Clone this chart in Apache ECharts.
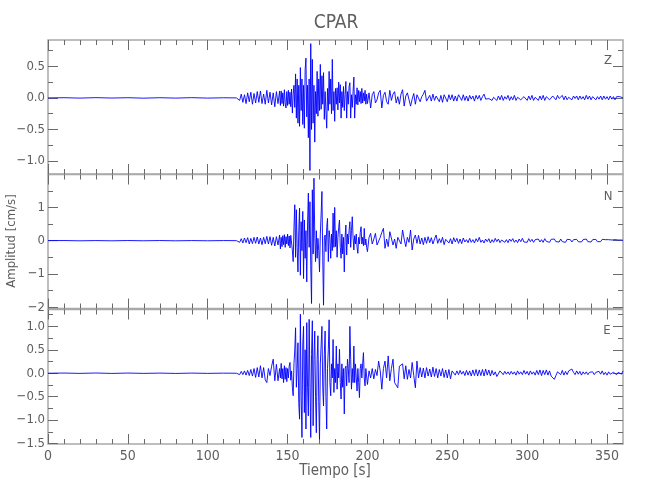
<!DOCTYPE html>
<html><head><meta charset="utf-8">
<script src="https://cdn.jsdelivr.net/npm/echarts@6/dist/echarts.min.js"></script>
<style>html,body{margin:0;padding:0;background:#fff}#chart{width:650px;height:500px}</style>
</head><body><div id="chart"></div>
<script>
// Sampling grid of the traces (seconds): [start, end, step]
const timeSegments = [[0, 110, 10], [118, 145, 1], [145.5, 200, 0.5], [201, 360, 1]];

// Z component (cm/s)
const ampZ = [
  // 0..110
  0, 0.003, -0.003, 0.004, -0.002, 0.003, -0.004, 0.003, -0.003, 0.004, -0.003, 0.002,
  // 118..145
  0, 0.02, -0.04, 0.06, -0.07, 0.05, -0.09, 0.08, -0.06, 0.09,
  -0.1, 0.07, -0.08, 0.1, -0.07, 0.11, -0.09, 0.06, -0.1, 0.12,
  -0.08, 0.09, -0.11, 0.08, -0.14, 0.1, -0.09, 0.11,
  // 145.5..200 (0.5 s)
  -0.12, 0.11, -0.09, 0.08, -0.13, 0.13, -0.08, -0.16, 0.1, -0.12,
  0.12, -0.1, 0.09, -0.14, 0.14, -0.24, 0.05, 0.2, -0.15, 0.38,
  -0.32, 0.3, -0.4, 0.2, -0.45, 0.48, -0.2, 0.3, -0.42, 0.2,
  -0.48, 0.45, 0.63, -0.3, 0.2, -0.63, 0.3, -1.15, 0.86, -0.5,
  0.61, -0.4, 0.2, -0.7, 0.1, -0.25, 0.42, -0.29, 0.3, -0.2,
  0.53, -0.18, 0.35, -0.1, 0.4, -0.34, 0.1, -0.2, -0.48, 0.15,
  -0.2, 0.42, -0.1, 0.3, -0.25, 0.61, -0.2, 0.1, -0.37, 0.15,
  -0.1, 0.16, -0.19, 0.25, -0.08, 0.21, -0.32, 0.1, -0.15, 0.18,
  -0.2, 0.05, 0.26, -0.32, 0.1, -0.1, 0.18, 0.24, -0.32, 0.05,
  -0.15, 0.1, 0.33, -0.32, 0.05, -0.1, 0.16, -0.11, 0.12, -0.06,
  0.1, -0.09, 0.15, -0.08, 0.08, -0.05, 0.12, -0.1, 0.06, -0.09,
  // 201..360
  0.08, -0.16, 0.05, 0.1, -0.08, -0.03, 0.08, 0.12, -0.16, 0.04,
  0.09, -0.06, -0.1, 0.12, -0.04, 0.06, 0.1, -0.08, 0.02, -0.1,
  0.06, 0.13, -0.13, 0.03, 0.08, 0.1, -0.13, -0.02, 0.07, -0.1,
  0.05, 0.08, -0.06, 0.02, 0.06, 0.12, -0.05, -0.08, 0.04, -0.05,
  0.06, -0.04, 0.03, 0.06, -0.06, 0.04, -0.07, 0.05, 0.02, -0.06,
  0.05, -0.03, 0.05, -0.05, 0.03, -0.05, 0.05, 0.01, -0.04, 0.05,
  -0.04, 0.03, -0.05, 0.04, -0.02, 0.03, -0.05, 0.04, -0.02, 0.04,
  -0.04, 0.02, 0.06, -0.02, 0.01, -0.01, -0.03, -0.04, 0.01, 0.04,
  -0.04, 0.03, -0.03, 0.04, -0.04, 0.02, -0.02, 0.04, -0.04, 0.02,
  -0.03, 0.04, -0.04, 0.01, 0.04, -0.03, -0.04, 0.02, 0.04, -0.04,
  0.03, -0.03, 0.04, -0.04, 0.01, 0.04, -0.04, 0.03, -0.03, 0.04,
  -0.04, 0.02, 0.04, -0.03, -0.04, 0.03, 0.01, -0.03, 0.04, -0.01,
  -0.04, 0.04, -0.03, 0.03, -0.03, 0.01, 0.04, -0.03, 0.03, -0.01,
  0.03, -0.03, 0.03, -0.02, 0.02, -0.03, 0.04, -0.02, 0.03, -0.03,
  0.02, 0.03, -0.03, 0.02, -0.02, 0.03, -0.03, 0.03, -0.02, 0.02,
  -0.03, 0.03, -0.02, 0.02, -0.03, 0.02, 0.0, 0.02, -0.01, 0.0
];

// N component (cm/s)
const ampN = [
  0, 0.004, -0.004, 0.003, -0.004, 0.004, -0.003, 0.004, -0.004, 0.003, -0.003, 0.003,
  0, 0.03, -0.05, 0.06, -0.07, 0.08, -0.06, 0.09, -0.1, 0.07,
  -0.09, 0.1, -0.08, 0.11, -0.1, 0.08, -0.12, 0.1, -0.09, 0.13,
  -0.1, 0.12, -0.14, 0.1, -0.16, 0.12, -0.13, 0.17,
  -0.25, 0.1, -0.18, 0.15, -0.12, 0.18, -0.2, 0.12, -0.1, 0.2,
  -0.15, 0.14, -0.22, 0.16, 0.1, -0.3, -0.63, 0.4, 1.08, -0.5,
  0.93, -0.2, -0.94, 0.3, 0.98, -1.04, 0.57, -0.3, 0.88, -1.14,
  0.62, -0.53, 0.3, -1.24, 0.5, 1.43, -0.2, 1.17, -0.74, -1.89,
  1.53, -0.4, 1.88, 0.2, -0.63, 0.3, -0.53, 0.07, -0.3, -0.94,
  0.2, 0.8, 1.48, -0.5, -1.94, 0.1, 0.17, -0.33, 0.4, 0.67,
  -0.63, 0.3, 0.07, -0.53, 0.2, -0.3, 0.83, -0.2, 1.0, -0.18,
  0.3, -0.5, 0.1, 0.4, 0.62, -0.2, -0.53, 0.2, -0.4, 0.1,
  -0.94, 0.1, 0.47, -0.43, 0.2, -0.1, 0.3, 0.57, -0.2, 0.3,
  0.72, 0.1, -0.28, 0.15, -0.1, 0.2, -0.2, -0.38, 0.1, -0.1,
  0.25, 0.42, -0.1, 0.1, -0.15, 0.37, -0.13, 0.05, -0.2, -0.33,
  0.1, 0.22, -0.1, 0.05, 0.22, -0.13, -0.18, 0.1, 0.25, 0.37,
  -0.23, 0.05, -0.18, 0.27, 0.22, -0.13, 0.05, -0.23, 0.1, 0.15,
  -0.1, 0.32, 0.05, -0.18, 0.1, -0.05, 0.32, -0.28, 0.05, 0.17,
  -0.08, 0.16, -0.1, 0.08, -0.12, 0.1, -0.08, 0.12, -0.06, 0.09,
  -0.1, 0.05, 0.17, -0.08, 0.06, -0.06, 0.1, -0.12, 0.04, 0.08,
  -0.07, 0.06, -0.1, 0.09, -0.04, 0.07, -0.08, 0.05, -0.09, 0.08,
  -0.04, 0.03, -0.06, 0.07, -0.05, 0.03, -0.07, 0.06, -0.03, 0.1,
  -0.05, 0.02, -0.07, 0.05, -0.03, 0.06, -0.07, 0.03, -0.05, 0.07,
  -0.03, 0.05, -0.06, 0.02, 0.07, -0.05, 0.03, -0.06, 0.05, -0.02,
  0.06, -0.05, 0.02, -0.06, 0.05, -0.03, 0.07, -0.04, 0.02, -0.05,
  0.06, -0.03, 0.04, -0.05, 0.03, -0.02, 0.05, -0.04, 0.03, -0.05,
  0.06, -0.02, 0.03, -0.05, 0.04, -0.02, 0.05, -0.03, 0.02, -0.04,
  0.05, -0.03, 0.02, -0.05, 0.04, -0.02, 0.03, -0.04, 0.03, -0.02,
  0.04, -0.03, 0.02, -0.04, 0.03, -0.02, 0.05, -0.03, 0.02, -0.04,
  0.03, -0.02, 0.04, -0.03, 0.02, -0.03, 0.04, -0.02, 0.03, -0.02,
  0.03, -0.03, 0.02, -0.02, 0.03, -0.02, 0.02, -0.01, 0.02, 0.01
];

// E component (cm/s)
const ampE = [
  0, 0.004, -0.003, 0.005, -0.004, 0.004, -0.003, 0.003, -0.004, 0.003, -0.003, 0.002,
  0, 0.02, -0.03, 0.04, -0.03, 0.05, -0.04, 0.06, -0.05, 0.08,
  -0.06, 0.1, -0.09, 0.12, -0.08, 0.16, -0.1, 0.12, -0.14, -0.2,
  0.1, -0.05, 0.15, 0.3, -0.16, 0.19, -0.16, 0.1,
  -0.1, 0.21, -0.12, 0.1, -0.2, 0.16, -0.13, 0.12, -0.18, 0.1,
  -0.1, 0.15, 0.23, -0.15, 0.05, -0.3, -0.48, 0.2, 0.5, 0.97,
  -0.3, 0.1, 0.65, -0.63, -0.98, 1.26, -0.5, -1.37, 0.6, 1.0,
  -0.84, 0.5, -1.19, 1.08, -0.3, -0.91, 1.15, -0.2, -1.37, 0.4,
  1.12, -1.12, 0.3, 0.9, -0.5, -1.27, 0.3, 0.8, -0.6, -1.41,
  0.2, 0.6, 1.0, -0.3, -0.7, 0.4, 0.9, -0.5, -1.19, 0.1,
  0.5, 1.14, -0.2, -0.48, 0.2, -0.1, 0.72, -0.41, 0.1, -0.2,
  0.58, -0.34, 0.2, -0.1, 0.51, -0.2, -0.55, 0.2, -0.3, 0.1,
  -0.87, 0.1, 0.15, -0.27, 0.3, 0.1, -0.2, 1.0, 0.3, -0.34,
  0.1, -0.2, 0.58, -0.2, 0.2, -0.1, -0.38, 0.1, -0.2, -0.52,
  0.1, 0.2, -0.1, 0.2, 0.44, -0.1, -0.27, 0.1, 0.09, -0.24,
  0.05, -0.1, 0.1, -0.12, 0.08, -0.05, 0.26, 0.05, -0.34, 0.1,
  0.26, -0.1, 0.37, -0.16, 0.1, 0.3, -0.2, -0.16, -0.31, 0.15,
  0.16, 0.2, -0.12, 0.16, -0.13, 0.08, -0.1, 0.23, -0.05, -0.31,
  0.26, -0.1, 0.12, -0.08, 0.11, -0.1, 0.12, -0.06, 0.09, -0.08,
  0.13, -0.07, 0.1, -0.1, 0.08, -0.06, 0.1, -0.09, 0.07, -0.1,
  0.08, -0.12, 0.05, 0.02, -0.04, 0.05, -0.03, 0.06, -0.02, 0.04,
  -0.05, 0.06, -0.04, 0.05, -0.06, 0.07, -0.05, 0.08, -0.06, 0.07,
  -0.05, 0.08, -0.06, 0.09, -0.04, 0.07, -0.06, 0.06, -0.04, 0.03,
  -0.07, -0.1, 0.05, 0.02, -0.03, 0.04, -0.02, 0.03, -0.03, 0.04,
  -0.02, 0.03, -0.04, 0.05, -0.02, 0.03, -0.03, 0.06, -0.02, 0.04,
  -0.04, 0.05, -0.02, 0.03, -0.04, 0.06, -0.03, 0.07, -0.05, 0.06,
  -0.03, 0.07, -0.04, 0.05, -0.06, -0.1, -0.13, -0.05, 0.03, 0.05,
  -0.03, 0.06, -0.04, 0.04, -0.03, 0.05, 0.03, 0.09, 0.02, -0.03,
  0.05, -0.02, 0.04, -0.04, 0.03, -0.02, 0.03, -0.03, 0.02, -0.02,
  0.03, -0.03, 0.02, -0.02, 0.04, -0.02, 0.05, -0.03, 0.02, -0.04,
  0.03, -0.02, -0.03, 0.02, 0.04, -0.03, 0.02, 0.05, -0.02, 0.05
];

// Tick labels / tick positions
const xTickLabels = [0, 50, 100, 150, 200, 250, 300, 350];
const xMinorTicks = [10,20,30,40,60,70,80,90,110,120,130,140,160,170,180,190,210,220,230,240,260,270,280,290,310,320,330,340];
const yTicksZ = [-1.0, -0.5, 0.0, 0.5];
const yMinorZ = [-0.75, -0.25, 0.25, 0.75];
const yTicksN = [-2, -1, 0, 1];
const yMinorN = [-1.5, -0.5, 0.5, 1.5];
const yTicksE = [-1.5, -1.0, -0.5, 0.0, 0.5, 1.0];
const yMinorE = [-1.25, -0.75, -0.25, 0.25, 0.75, 1.25];
const panelNames = ['Z', 'N', 'E'];

// ---- build ----
const time = [];
timeSegments.forEach(([a, b, s]) => { for (let t = a; t <= b + 1e-9; t += s) time.push(Math.round(t * 10) / 10); });
const pairs = arr => time.map((t, i) => [t, arr[i]]);
if (ampZ.length !== time.length || ampN.length !== time.length || ampE.length !== time.length)
  console.error('length mismatch', time.length, ampZ.length, ampN.length, ampE.length);

const FONT = "'Liberation Sans Narrow','DejaVu Sans Condensed','Roboto Condensed','Liberation Sans',sans-serif";
const LABEL = '#5e5e5e', TICK = '#6a6a6a', FRAME = '#a9a9a9';

const panels = [
  {top: 40, height: 134, min: -1.205, max: 0.917, ticks: yTicksZ, minor: yMinorZ, fmt: v => v.toFixed(1), amp: ampZ},
  {top: 174.5, height: 134, min: -2.04, max: 1.99, ticks: yTicksN, minor: yMinorN, fmt: v => String(v), amp: ampN},
  {top: 309.5, height: 134.5, min: -1.51, max: 1.36, ticks: yTicksE, minor: yMinorE, fmt: v => v.toFixed(1), amp: ampE}
];

const grid = [], xAxis = [], yAxis = [], series = [];
panels.forEach((p, g) => {
  grid.push({left: 48, right: 27, top: p.top, height: p.height, show: true,
    borderColor: FRAME, borderWidth: 1.5, backgroundColor: 'transparent'});
  ['bottom', 'top'].forEach(pos => {
    const isLbl = pos === 'bottom' && g === 2;
    xAxis.push({type: 'value', gridIndex: g, position: pos, min: 0, max: 360,
      axisLine: {show: false, onZero: false}, splitLine: {show: false},
      axisTick: {show: true, inside: true, length: 10, customValues: xTickLabels, lineStyle: {color: TICK, width: 1}},
      axisLabel: {show: isLbl, customValues: xTickLabels, color: LABEL, fontFamily: FONT, fontSize: 14, margin: 5,
        formatter: v => String(v)}});
    xAxis.push({type: 'value', gridIndex: g, position: pos, min: 0, max: 360,
      axisLine: {show: false, onZero: false}, splitLine: {show: false}, axisLabel: {show: false},
      axisTick: {show: true, inside: true, length: 5, customValues: xMinorTicks, lineStyle: {color: TICK, width: 1}}});
  });
  ['left', 'right'].forEach(pos => {
    yAxis.push({type: 'value', gridIndex: g, position: pos, min: p.min, max: p.max,
      axisLine: {show: false, onZero: false}, splitLine: {show: false},
      axisTick: {show: true, inside: true, length: 10, customValues: p.ticks, lineStyle: {color: TICK, width: 1}},
      axisLabel: {show: pos === 'left', customValues: p.ticks, color: LABEL, fontFamily: FONT, fontSize: 13, margin: 3,
        formatter: v => p.fmt(v).replace('-', '\u2212')}});
    yAxis.push({type: 'value', gridIndex: g, position: pos, min: p.min, max: p.max,
      axisLine: {show: false, onZero: false}, splitLine: {show: false}, axisLabel: {show: false},
      axisTick: {show: true, inside: true, length: 5, customValues: p.minor, lineStyle: {color: TICK, width: 1}}});
  });
  series.push({type: 'line', name: panelNames[g], xAxisIndex: g * 4, yAxisIndex: g * 4,
    data: pairs(p.amp), showSymbol: false, symbol: 'none', sampling: null,
    lineStyle: {color: '#0000ff', width: 0.9}, clip: true, z: 1});
});

const txt = (text, x, y, size, extra) => Object.assign({type: 'text', x, y,
  style: {text, fill: LABEL, font: size + 'px ' + FONT, align: 'center', verticalAlign: 'middle'}}, extra || {});

const chart = echarts.init(document.getElementById('chart'), null, {renderer: 'canvas'});
chart.setOption({
  animation: false,
  backgroundColor: '#ffffff',
  grid, xAxis, yAxis, series,
  graphic: [
    txt('CPAR', 336, 23, 19),
    txt('Amplitud [cm/s]', 12, 241, 13, {rotation: Math.PI / 2}),
    txt('Tiempo [s]', 335, 471, 15),
    txt('Z', 608, 61, 13),
    txt('N', 608, 197, 13),
    txt('E', 607, 331, 13)
  ]
});
</script></body></html>
